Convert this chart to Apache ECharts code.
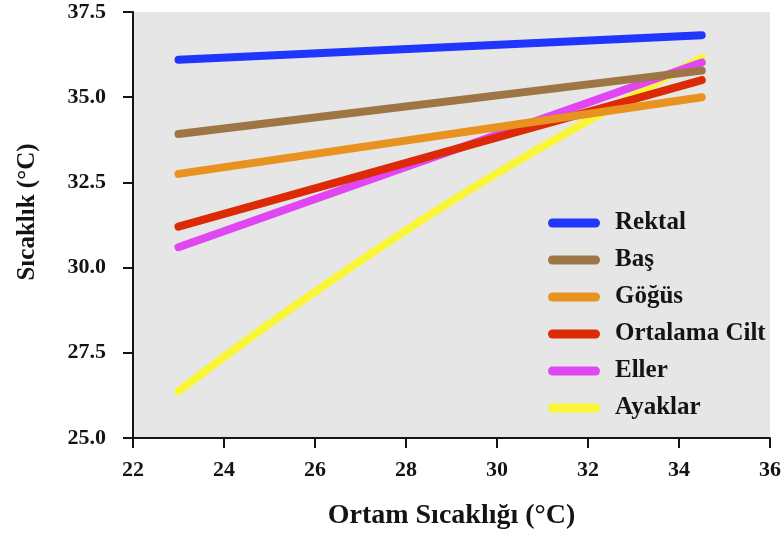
<!DOCTYPE html>
<html>
<head>
<meta charset="utf-8">
<script src="https://cdn.jsdelivr.net/npm/echarts@6/dist/echarts.min.js"></script>
<style>
  html, body { margin: 0; padding: 0; background: #ffffff; }
  #chart { width: 784px; height: 538px; }
</style>
</head>
<body>
<div id="chart"></div>
<script>
// Ortam sıcaklığına göre vücut bölgelerinin sıcaklığı
const seriesNames = ['Rektal', 'Baş', 'Göğüs', 'Ortalama Cilt', 'Eller', 'Ayaklar'];
const seriesColors = ['#2136fb', '#9e7544', '#e8921f', '#dc2a06', '#e046f2', '#f9f637'];

// [ortam sıcaklığı, vücut bölgesi sıcaklığı]
const rektal = [[23, 36.1], [34.5, 36.82]];
const bas = [[23, 33.92], [34.5, 35.78]];
const gogus = [[23, 32.75], [34.5, 35.0]];
const ortalamaCilt = [[23, 31.2], [34.5, 35.5]];
const eller = [[23, 30.6], [34.5, 36.02]];
const ayaklar = [[23, 26.37], [25, 28.35], [27, 30.2], [29, 31.95], [31, 33.55], [33, 35.05], [34.5, 36.15]];

const xTicks = [22, 24, 26, 28, 30, 32, 34, 36];
const yTicks = [25.0, 27.5, 30.0, 32.5, 35.0, 37.5];

const seriesData = [rektal, bas, gogus, ortalamaCilt, eller, ayaklar];

const fontFamily = '"Liberation Serif", "Times New Roman", serif';
const ink = '#141414';

const chart = echarts.init(document.getElementById('chart'), null, { renderer: 'canvas' });

chart.setOption({
  animation: false,
  backgroundColor: '#ffffff',
  grid: {
    left: 133, right: 14, top: 12, bottom: 100,
    outerBoundsMode: 'none',
    containLabel: false,
    show: true,
    backgroundColor: '#e6e6e6',
    borderWidth: 0
  },
  legend: {
    orient: 'vertical',
    left: 543,
    top: 205,
    itemWidth: 52,
    itemHeight: 9,
    itemGap: 11,
    icon: 'path://M4.5,0 H47.5 A4.5,4.5 0 0 1 47.5,9 H4.5 A4.5,4.5 0 0 1 4.5,0 Z',
    data: seriesNames,
    textStyle: {
      fontFamily: fontFamily,
      fontWeight: 'bold',
      fontSize: 25,
      lineHeight: 26,
      color: ink,
      padding: [0, 0, 0, 10]
    }
  },
  xAxis: {
    type: 'value',
    min: xTicks[0],
    max: xTicks[xTicks.length - 1],
    interval: 2,
    name: 'Ortam Sıcaklığı (°C)',
    nameLocation: 'middle',
    nameGap: 64,
    nameTextStyle: { fontFamily: fontFamily, fontWeight: 'bold', fontSize: 28, color: ink },
    splitLine: { show: false },
    axisLine: { show: true, lineStyle: { color: ink, width: 2 } },
    axisTick: { show: true, length: 10, lineStyle: { color: ink, width: 2 } },
    axisLabel: {
      margin: 21,
      fontFamily: fontFamily, fontWeight: 'bold', fontSize: 22, color: ink,
      formatter: v => String(v)
    }
  },
  yAxis: {
    type: 'value',
    min: yTicks[0],
    max: yTicks[yTicks.length - 1],
    interval: 2.5,
    name: 'Sıcaklık (°C)',
    nameLocation: 'middle',
    nameGap: 93,
    nameRotate: 90,
    nameTextStyle: { fontFamily: fontFamily, fontWeight: 'bold', fontSize: 25, color: ink, padding: [0, 0, 0, 26] },
    splitLine: { show: false },
    axisLine: { show: true, lineStyle: { color: ink, width: 2 } },
    axisTick: { show: true, length: 10, lineStyle: { color: ink, width: 2 } },
    axisLabel: {
      margin: 27,
      fontFamily: fontFamily, fontWeight: 'bold', fontSize: 22, color: ink,
      formatter: v => v.toFixed(1)
    }
  },
  series: seriesNames.map((name, i) => ({
    name: name,
    type: 'line',
    data: seriesData[i],
    smooth: seriesData[i].length > 2 ? 0.4 : false,
    showSymbol: false,
    symbol: 'none',
    z: 10 - i,
    color: seriesColors[i],
    lineStyle: { color: seriesColors[i], width: 8, cap: 'round', join: 'round' }
  }))
});
</script>
</body>
</html>
